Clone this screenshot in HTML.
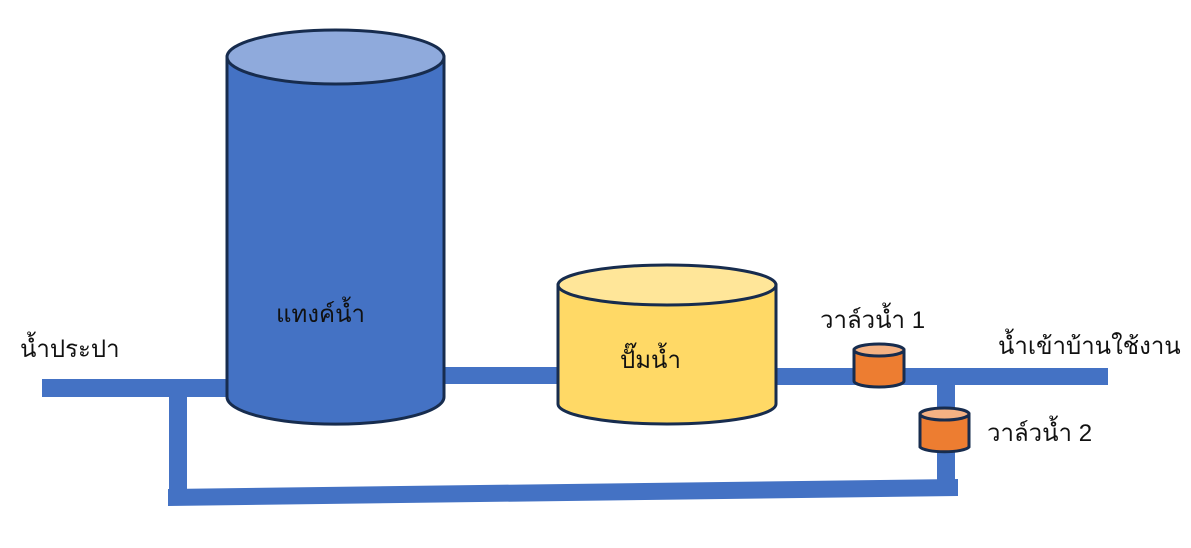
<!DOCTYPE html>
<html><head><meta charset="utf-8"><style>
html,body{margin:0;padding:0;background:#fff;width:1191px;height:548px;overflow:hidden}
svg text{font-family:"Liberation Sans","DejaVu Sans",sans-serif;fill:#111;font-size:24px}
</style></head><body>
<svg width="1191" height="548" viewBox="0 0 1191 548">
<g fill="#4472c4">
<rect x="42" y="379" width="186" height="18"/>
<rect x="169" y="396" width="18" height="96"/>
<polygon points="168,489 958,479 958,496 168,506"/>
<rect x="937" y="384" width="18" height="97"/>
<rect x="440" y="367" width="120" height="17"/>
<rect x="774" y="368" width="334" height="17"/>
</g>
<g stroke="#172c4e" stroke-width="3">
<path d="M227,57 L227,397 A108,27 0 0 0 444,397 L444,57 Z" fill="#4472c4"/>
<ellipse cx="335.5" cy="57" rx="108.5" ry="27" fill="#8faadc"/>
<path d="M558,285 L558,404 A109,20 0 0 0 776,404 L776,285 Z" fill="#ffd966"/>
<ellipse cx="667" cy="285" rx="109" ry="20" fill="#ffe699"/>
<path d="M854,350 L854,381 A25,6 0 0 0 904,381 L904,350 Z" fill="#ed7d31"/>
<ellipse cx="879" cy="350" rx="25" ry="6" fill="#f4b183"/>
<path d="M920,414 L920,447 A25,6 0 0 0 969,447 L969,414 Z" fill="#ed7d31"/>
<ellipse cx="944.5" cy="414" rx="24.5" ry="6" fill="#f4b183"/>
</g>
<text x="20" y="357">น้ำประปา</text>
<text x="276" y="322">แทงค์น้ำ</text>
<text x="620" y="368">ปั๊มน้ำ</text>
<text x="820" y="328" font-size="22">วาล์วน้ำ 1</text>
<text x="987" y="441" font-size="22">วาล์วน้ำ 2</text>
<text x="998" y="354">น้ำเข้าบ้านใช้งาน</text>
</svg>
</body></html>
